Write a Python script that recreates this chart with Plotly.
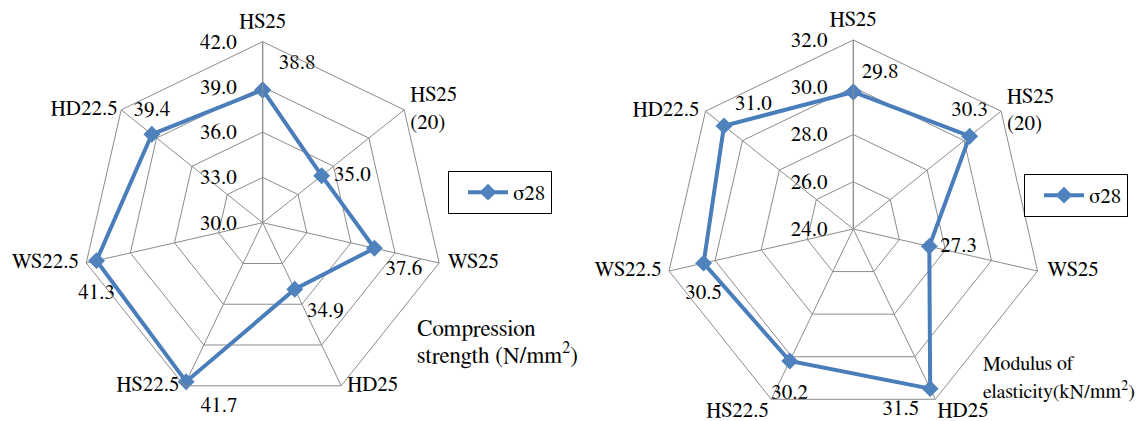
import plotly.graph_objects as go

categories = ["HS25", "HS25 (20)", "WS25", "HD25", "HS22.5", "WS22.5", "HD22.5"]
category_labels = ["HS25", "HS25<br>(20)", "WS25", "HD25", "HS22.5", "WS22.5", "HD22.5"]
series_name = "σ28"
compression = [38.8, 35.0, 37.6, 34.9, 41.7, 41.3, 39.4]
elasticity = [29.8, 30.3, 27.3, 31.5, 30.2, 30.5, 31.0]
comp_range = [30.0, 42.0]
elas_range = [24.0, 32.0]
comp_ticks = [30.0, 33.0, 36.0, 39.0, 42.0]
elas_ticks = [24.0, 26.0, 28.0, 30.0, 32.0]
comp_pos = ["top right", "middle right", "bottom right", "bottom right", "bottom right", "bottom center", "top center"]
elas_pos = ["top right", "top center", "middle right", "bottom left", "bottom center", "bottom center", "top right"]
label_pos = ["top center", "middle right", "middle right", "middle right", "middle left", "middle left", "middle left"]
label_pos2 = ["top center", "middle right", "middle right", "bottom right", "bottom left", "middle left", "middle left"]
label_pad = [12, 8, 12, 8, 6, 10, 4]
label_pad2 = [12, 8, 14, 2, 2, 10, 8]
value_pad = [24, 18, 16, 18, 22, 34, 20]
value_pad2 = [12, 22, 16, 16, 34, 30, 16]

W, H = 1148, 421
OFF = 8  # page body margin
FONT = "FreeSerif, DejaVu Serif"
LINE = "#4A7EBB"
MARK = "#4F81BD"
GRID = "#8C8C8C"


def closed(v):
    return list(v) + [v[0]]


def add_chart(fig, values, pos, pad, lpos, lpad, rng, subplot, legend):
    fig.add_trace(go.Scatterpolar(
        r=closed(values), theta=closed(categories), subplot=subplot,
        mode="lines+markers", name=series_name,
        line=dict(color=LINE, width=4),
        marker=dict(symbol="diamond", size=13, color=MARK),
        legend=legend,
    ))
    fig.add_trace(go.Scatterpolar(
        r=values, theta=categories, subplot=subplot,
        mode="markers+text", showlegend=False, hoverinfo="skip",
        marker=dict(size=pad, opacity=0),
        text=[f"{v:.1f}" for v in values], textposition=pos,
        textfont=dict(family=FONT, size=21, color="black"),
        cliponaxis=False,
    ))
    fig.add_trace(go.Scatterpolar(
        r=[rng[1]] * len(categories), theta=categories, subplot=subplot,
        mode="markers+text", showlegend=False, hoverinfo="skip",
        marker=dict(size=lpad, opacity=0),
        text=category_labels, textposition=lpos,
        textfont=dict(family=FONT, size=21, color="black"),
        cliponaxis=False,
    ))


fig = go.Figure()
add_chart(fig, compression, comp_pos, value_pad, label_pos, label_pad, comp_range, "polar", "legend")
add_chart(fig, elasticity, elas_pos, value_pad2, label_pos2, label_pad2, elas_range, "polar2", "legend2")


def polar_cfg(cx, cy, R, rng, ticks):
    cx -= OFF
    cy -= OFF
    return dict(
        domain=dict(x=[(cx - R) / W, (cx + R) / W],
                    y=[max(0, (H - cy - R) / H), min(1, (H - cy + R) / H)]),
        gridshape="linear",
        bgcolor="white",
        angularaxis=dict(
            direction="clockwise", rotation=90, type="category",
            categoryarray=categories,
            showline=True, linecolor=GRID, linewidth=1,
            showgrid=True, gridcolor=GRID, gridwidth=1,
            ticks="", showticklabels=False,
        ),
        radialaxis=dict(
            range=rng, angle=90, tickangle=90, side="counterclockwise",
            tickvals=ticks, ticktext=[f"{t:.1f}" for t in ticks],
            showline=True, linecolor=GRID, linewidth=1,
            showgrid=True, gridcolor=GRID, gridwidth=1,
            ticks="outside", ticklen=18, tickcolor="rgba(0,0,0,0)",
            tickfont=dict(family=FONT, size=21, color="black"),
        ),
    )


def px(x):
    return (x - OFF) / W


def py(y):
    return 1 - (y - OFF) / H


fig.update_layout(
    width=W, height=H,
    margin=dict(l=0, r=0, t=0, b=0),
    paper_bgcolor="white",
    font=dict(family=FONT, size=21, color="black"),
    polar=polar_cfg(262.7, 222.7, 181, comp_range, comp_ticks),
    polar2=polar_cfg(853.3, 229, 189, elas_range, elas_ticks),
    showlegend=True,
    legend=dict(x=px(448), y=py(171), xanchor="left", yanchor="top",
                bordercolor="black", borderwidth=1, bgcolor="white",
                indentation=14, itemwidth=40,
                font=dict(family=FONT, size=21)),
    legend2=dict(x=px(1024), y=py(174), xanchor="left", yanchor="top",
                 bordercolor="black", borderwidth=1, bgcolor="white",
                 indentation=14, itemwidth=40,
                 font=dict(family=FONT, size=21)),
    annotations=[
        dict(text="Compression", x=px(415), y=py(329), xref="paper", yref="paper",
             xanchor="left", yanchor="middle", showarrow=False,
             font=dict(size=23)),
        dict(text="strength (N/mm<sup>2</sup>)", x=px(415), y=py(354), xref="paper", yref="paper",
             xanchor="left", yanchor="middle", showarrow=False,
             font=dict(size=23)),
        dict(text="Modulus of", x=px(981), y=py(364), xref="paper", yref="paper",
             xanchor="left", yanchor="middle", showarrow=False,
             font=dict(size=20)),
        dict(text="elasticity(kN/mm<sup>2</sup>)", x=px(981), y=py(390), xref="paper", yref="paper",
             xanchor="left", yanchor="middle", showarrow=False,
             font=dict(size=20)),
    ],
)

fig.write_html("out.html")
